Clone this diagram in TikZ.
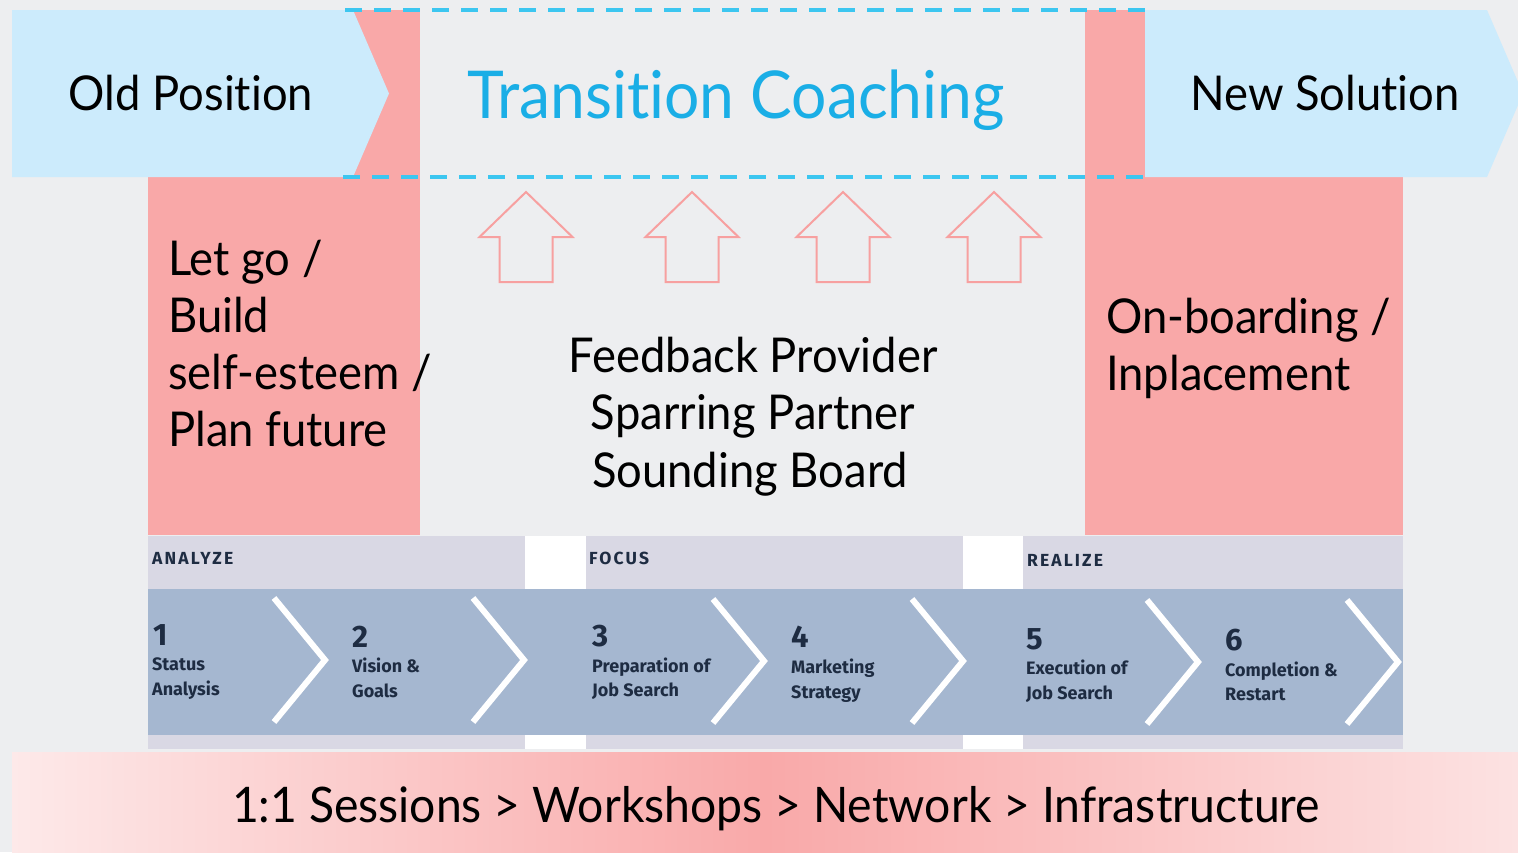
\documentclass[tikz,border=0pt]{standalone}
\usepackage{fontspec}
\setmainfont{Lato}[FakeStretch=0.945,Ligatures=NoCommon]
\newfontfamily\stripfont{Fira Sans}
\definecolor{bg}{HTML}{EDEEF0}
\definecolor{pinkc}{HTML}{F9A8A8}
\definecolor{lblue}{HTML}{CCEBFC}
\definecolor{dashblue}{HTML}{3CC6F0}
\definecolor{titleblue}{HTML}{1AAEE6}
\definecolor{lav}{HTML}{D9D8E4}
\definecolor{band}{HTML}{A5B7D0}
\definecolor{navy}{HTML}{1E2C42}
\definecolor{barL}{HTML}{FDE9E9}
\definecolor{barR}{HTML}{FCE2E2}
\definecolor{barD}{HTML}{F9A9A9}
\definecolor{arrowpink}{HTML}{F7A0A0}
\tikzset{
  maintext/.style={text=black, inner sep=0pt, font=\fontsize{48}{57}\selectfont},
  headtext/.style={text=navy, inner sep=0pt, anchor=base west,
    font=\stripfont\bfseries\fontsize{17.5}{20}\selectfont\addfontfeature{LetterSpace=12}},
  numtext/.style={text=navy, inner sep=0pt, anchor=base west,
    font=\stripfont\bfseries\fontsize{31}{34}\selectfont},
  labtext/.style={text=navy, inner sep=0pt, anchor=base west,
    font=\stripfont\bfseries\fontsize{18}{20}\selectfont},
  uparrow/.style={draw=arrowpink, line width=2pt, line join=miter},
  chevron/.style={draw=white, line width=6pt},
  dashline/.style={draw=dashblue, line width=3.5pt, dash pattern=on 17pt off 12pt}
}
\begin{document}
\begin{tikzpicture}[x=1pt,y=-1pt]
\fill[bg] (0,0) rectangle (1518,852);
\useasboundingbox (0,0) rectangle (1518,852);
\clip (0,0) rectangle (1518,852);
% pink columns
\fill[pinkc] (148,10) rectangle (420,535);
\fill[pinkc] (1085,10) rectangle (1403,535);
% blue arrows
\fill[lblue] (12,10) -- (353,10) -- (389,93.5) -- (353,177) -- (12,177) -- cycle;
\fill[lblue] (1145,10) -- (1487,10) -- (1523,93.5) -- (1487,177) -- (1145,177) -- cycle;
% dashed lines
\draw[dashline] (345,10) -- (1147,10);
\draw[dashline] (343,177) -- (1145,177);
% texts top
\node[maintext, anchor=base] (oldpos) at (191,110) {Old Position};
\node[maintext, anchor=base] (newsol) at (1325,110) {New Solution};
\node[text=titleblue, inner sep=0pt, anchor=base, font=\fontsize{66}{80}\selectfont] (title) at (736,118) {Transition Coaching};
% up arrows
\foreach \cx in {526,692,843,994}{
  \draw[uparrow] (\cx,192) -- (\cx+46.5,237) -- (\cx+26.5,237) -- (\cx+26.5,282)
     -- (\cx-26.5,282) -- (\cx-26.5,237) -- (\cx-46.5,237) -- cycle;
}
% left column
\node[maintext, anchor=base west] (l1) at (168,275) {Let go /};
\node[maintext, anchor=base west] (l2) at (168,332) {Build};
\node[maintext, anchor=base west] (l3) at (168,389) {self-esteem /};
\node[maintext, anchor=base west] (l4) at (168,446) {Plan future};
% middle
\node[maintext, anchor=base] (m1) at (753,372) {Feedback Provider};
\node[maintext, anchor=base] (m2) at (753,429.5) {Sparring Partner};
\node[maintext, anchor=base] (m3) at (750,487) {Sounding Board};
% right column
\node[maintext, anchor=base west] (r1) at (1106,333) {On-boarding /};
\node[maintext, anchor=base west] (r2) at (1106,390) {Inplacement};
% strip
\fill[lav] (148,536) rectangle (1403,590);
\fill[lav] (148,734) rectangle (1403,749);
\fill[white] (525,536) rectangle (586,590);
\fill[white] (963,536) rectangle (1023,590);
\fill[white] (525,734) rectangle (586,749);
\fill[white] (963,734) rectangle (1023,749);
\fill[band] (148,589) rectangle (1403,735);
\foreach \lx/\dy in {274/0,473/0,713/1,912/1,1147/2,1347/2}{
  \draw[chevron] (\lx,598+\dy) -- (\lx+51,660+\dy) -- (\lx,722+\dy);
}
\node[headtext] (hA) at (152,564) {ANALYZE};
\node[headtext] (hF) at (589,564) {FOCUS};
\node[headtext] (hR) at (1027,566) {REALIZE};
\node[numtext] (n1) at (153,645) {1};
\node[labtext] (s1a) at (152,670) {Status};
\node[labtext] (s1b) at (152,695) {Analysis};
\node[numtext] (n2) at (352,647) {2};
\node[labtext] (s2a) at (352,672) {Vision \&};
\node[labtext] (s2b) at (352,697) {Goals};
\node[numtext] (n3) at (592,646) {3};
\node[labtext] (s3a) at (592,672) {Preparation of};
\node[labtext] (s3b) at (592,696) {Job Search};
\node[numtext] (n4) at (791,647) {4};
\node[labtext] (s4a) at (791,673) {Marketing};
\node[labtext] (s4b) at (791,698) {Strategy};
\node[numtext] (n5) at (1026,649) {5};
\node[labtext] (s5a) at (1026,674) {Execution of};
\node[labtext] (s5b) at (1026,699) {Job Search};
\node[numtext] (n6) at (1225,650) {6};
\node[labtext] (s6a) at (1225,676) {Completion \&};
\node[labtext] (s6b) at (1225,700) {Restart};
% bottom bar
\shade[left color=barL, right color=barR, middle color=barD] (12,752) rectangle (1518,852);
\node[maintext, anchor=base, font=\fontsize{49}{57}\selectfont] (bar) at (776,822) {1:1 Sessions > Workshops > Network > Infrastructure};
\end{tikzpicture}
\end{document}
